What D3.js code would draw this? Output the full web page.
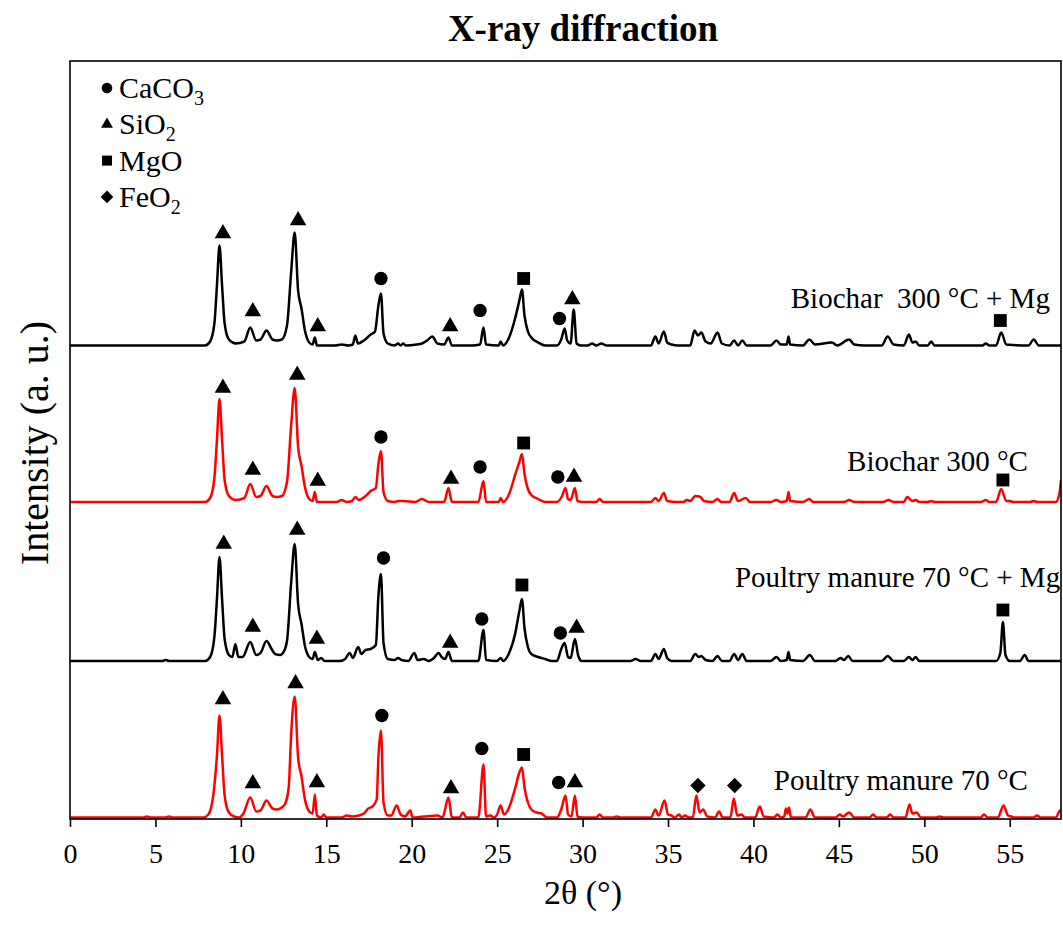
<!DOCTYPE html>
<html>
<head>
<meta charset="utf-8">
<script src="https://cdn.jsdelivr.net/npm/d3@7"></script>
<style>
  body { margin: 0; background: #fff; }
  svg { font-family: "Liberation Serif", "Times New Roman", serif; }
</style>
</head>
<body>
<svg width="1063" height="934"></svg>
<script>
// 2θ ticks
const xTicks = [0, 5, 10, 15, 20, 25, 30, 35, 40, 45, 50, 55];

// series, top to bottom
const seriesNames = ["Biochar  300 °C + Mg", "Biochar 300 °C", "Poultry manure 70 °C + Mg", "Poultry manure 70 °C"];
const seriesColors = ["#000000", "#ff0000", "#000000", "#ff0000"];
const seriesOffsets = [473.5, 317, 158, 1.5];   // vertical stacking offset (a.u.)
const labelAnchors = [[57.35, 37.5], [56.06, 31], [57.95, 74], [56.06, 27.5]]; // [2θ, a.u. above baseline]

// patterns: [2θ, intensity]
const biocharMg = [
  [0,0],[7.9,0],[8.2,4],[8.45,22],[8.6,60],[8.75,100],[8.9,60],[9.05,22],[9.3,6],[9.7,2],
  [10.2,4],[10.55,18],[10.9,5],[11.15,6],[11.5,15],[11.85,6],[12.1,5],[12.4,6],[12.7,20],[12.95,75],[13.15,113],[13.35,55],[13.55,37],[13.75,15],[14.0,3],[14.2,1],[14.33,8],[14.45,0],
  [15.5,0],[15.9,1],[16.3,0],[16.55,1],[16.7,10],[16.85,2],[17.2,5],[17.6,11],[17.85,14],[18.05,40],[18.2,52],[18.35,12],[18.6,2],[19.0,0],
  [19.2,2],[19.35,0],[19.5,2],[19.65,0],[20.3,1],[20.6,2],[20.9,5],[21.2,9],[21.5,2],[21.9,1],[22.15,8],[22.35,0],
  [23.5,0],[24.0,1],[24.2,18],[24.35,1],[25.1,0],[25.2,4],[25.35,0],[25.7,8],[26.05,27],[26.3,45],[26.45,56],[26.6,30],[26.8,14],[27.0,8],[27.4,3],[27.8,0],
  [28.5,0],[28.75,6],[28.95,17],[29.1,5],[29.3,2],[29.48,36],[29.65,2],[29.9,0],[30.3,0],[30.55,2],[30.8,0],[31.1,2],[31.4,0],
  [34.0,0],[34.26,9],[34.45,2],[34.76,14],[34.95,3],[35.2,1],[35.6,0],
  [36.3,0],[36.55,15],[36.75,10],[36.95,13],[37.2,4],[37.5,2],[37.9,13],[38.15,2],[38.6,0],[38.87,5],[39.1,0],[39.35,5],[39.6,0],
  [41.0,0],[41.35,5],[41.6,1],[41.95,1],[42.05,9],[42.15,1],[42.9,0],[43.27,6],[43.6,1],[44.6,3],[44.9,0],[45.6,6],[45.9,1],[46.5,0],
  [47.5,0],[47.86,9],[48.2,1],[48.8,0],[49.1,11],[49.3,3],[49.5,4],[49.7,0],[50.2,0],[50.4,4],[50.6,0],
  [53.4,0],[53.6,2],[53.8,0],[54.2,0],[54.5,13],[54.8,1],[56.1,0],[56.4,6],[56.7,0],[58,0]
];
const biochar = [
  [0,0],[7.9,0],[8.2,4],[8.45,24],[8.6,62],[8.75,103],[8.9,62],[9.05,22],[9.3,6],[9.7,2],
  [10.2,4],[10.55,18],[10.9,5],[11.15,6],[11.5,16],[11.85,6],[12.1,5],[12.4,6],[12.7,20],[12.95,78],[13.15,114],[13.35,55],[13.55,36],[13.75,15],[14.0,3],[14.2,1],[14.33,10],[14.45,0],
  [15.6,0],[15.9,2],[16.2,0],[16.5,1],[16.7,5],[16.9,2],[17.3,6],[17.6,11],[17.9,14],[18.05,38],[18.2,51],[18.35,10],[18.6,1],[19.0,0],
  [19.2,1],[19.5,1],[20.2,0],[20.6,3],[21.0,0],[21.9,0],[22.15,14],[22.35,0],
  [23.9,0],[24.2,21],[24.35,0],[25.1,0],[25.2,4],[25.35,0],[25.7,8],[26.05,27],[26.3,40],[26.45,48],[26.6,28],[26.8,13],[27.0,7],[27.4,3],[27.8,0],
  [28.5,0],[28.8,6],[29.0,14],[29.15,3],[29.3,2],[29.55,14],[29.7,1],[30.0,0],[30.8,0],[31.0,3],[31.2,0],
  [34.0,0],[34.26,4],[34.45,1],[34.76,9],[34.95,1],[35.5,0],[35.9,0],[36.1,2],[36.3,1],[36.6,6],[36.9,5],[37.1,1],[37.6,0],[37.9,3],[38.1,0],[38.6,0],[38.87,9],[39.1,1],[39.55,4],[39.8,0],
  [41.0,0],[41.35,2],[41.6,0],[41.95,1],[42.05,10],[42.15,1],[42.9,0],[43.27,3],[43.5,0],[45.3,0],[45.6,2],[45.9,0],[47.6,0],[47.9,2],[48.2,0],
  [48.8,0],[49.0,5],[49.3,1],[49.5,2],[49.7,0],[50.2,0],[50.4,1],[50.6,0],
  [53.3,0],[53.6,2],[53.8,0],[54.2,0],[54.5,13],[54.8,1],[55.0,1],[55.2,0],[56.2,0],[56.4,1],[56.6,0],[57.7,0],[57.9,8],[58,22]
];
const manureMg = [
  [0,0],[5.4,0],[5.6,1],[5.8,0],[7.9,0],[8.2,4],[8.45,24],[8.6,62],[8.75,104],[8.9,62],[9.05,22],[9.3,6],[9.5,4],[9.68,17],[9.85,4],
  [10.1,4],[10.55,19],[10.9,6],[11.15,8],[11.5,20],[11.8,12],[12.0,7],[12.3,6],[12.5,9],[12.7,20],[12.95,80],[13.15,117],[13.35,57],[13.55,37],[13.75,15],[14.0,4],[14.2,2],[14.33,9],[14.5,1],[14.7,3],[14.9,0],
  [15.8,0],[16.1,2],[16.37,8],[16.55,3],[16.87,14],[17.05,7],[17.3,11],[17.6,12],[17.9,16],[18.05,65],[18.2,87],[18.35,18],[18.6,2],[19.0,1],
  [19.2,3],[19.4,1],[19.8,0],[20.15,8],[20.35,1],[20.7,2],[21.0,0],[21.3,3],[21.57,8],[21.75,4],[21.95,2],[22.15,9],[22.35,0],
  [23.9,0],[24.2,31],[24.35,1],[25.0,0],[25.2,3],[25.35,0],[25.7,8],[26.05,27],[26.3,50],[26.45,62],[26.6,33],[26.8,14],[27.0,7],[27.4,4],[27.8,2],[28.2,0],
  [28.5,0],[28.75,12],[28.95,18],[29.15,4],[29.3,3],[29.55,22],[29.75,5],[29.95,0],
  [32.8,0],[33.1,2],[33.4,0],[34.0,0],[34.26,7],[34.45,2],[34.76,12],[34.95,3],[35.2,0],
  [36.3,0],[36.6,7],[36.8,4],[36.95,5],[37.2,1],[37.6,0],[37.9,5],[38.15,0],[38.6,0],[38.87,7],[39.1,1],[39.35,7],[39.6,0],
  [41.0,0],[41.35,4],[41.6,0],[41.95,1],[42.05,9],[42.15,1],[42.9,0],[43.3,6],[43.6,0],[44.8,0],[45.1,3],[45.3,1],[45.55,5],[45.8,0],[47.5,0],[47.86,5],[48.2,0],
  [48.8,0],[49.1,4],[49.3,1],[49.5,4],[49.7,0],
  [54.2,0],[54.45,8],[54.6,39],[54.75,6],[55.0,0],[55.6,0],[55.87,6],[56.1,0],[58,0]
];
const manure = [
  [0,0],[4.3,0],[4.5,1],[4.7,0],[5.6,0],[5.8,1],[6.0,0],[7.8,0],[8.1,3],[8.4,24],[8.6,62],[8.75,102],[8.9,62],[9.05,22],[9.3,5],[9.6,1],[9.9,0],
  [10.15,4],[10.55,20],[10.9,6],[11.15,7],[11.5,17],[11.85,9],[12.1,8],[12.4,10],[12.6,14],[12.8,30],[12.95,85],[13.15,121],[13.35,60],[13.55,41],[13.75,18],[14.0,6],[14.2,4],[14.33,23],[14.45,2],[14.7,0],[14.85,3],[15.0,0],
  [15.9,0],[16.2,2],[16.5,1],[16.9,2],[17.2,4],[17.46,9],[17.7,11],[17.95,18],[18.05,60],[18.2,87],[18.35,15],[18.6,2],[18.8,2],[19.12,12],[19.35,3],[19.6,1],[19.92,7],[20.05,0],
  [20.7,1],[21.5,2],[21.8,0],[22.15,20],[22.35,0],[22.8,0],[22.99,5],[23.2,0],
  [23.9,0],[24.2,53],[24.35,1],[24.6,2],[24.8,0],[25.0,3],[25.2,12],[25.4,3],[25.7,10],[26.05,29],[26.3,45],[26.45,50],[26.6,30],[26.8,15],[27.0,8],[27.3,5],[27.6,4],[27.9,0],
  [28.5,0],[28.75,8],[29.0,22],[29.15,3],[29.35,1],[29.55,22],[29.7,1],[30.0,0],[30.8,0],[31.0,3],[31.2,0],[31.8,0],[32.0,1],[32.2,0],
  [34.0,0],[34.26,8],[34.45,2],[34.8,17],[35.0,3],[35.2,2],[35.4,0],[35.64,3],[35.8,0],[36.0,2],[36.2,0],
  [36.45,0],[36.66,22],[36.85,5],[37.05,8],[37.3,1],[37.75,0],[37.99,6],[38.2,0],[38.65,0],[38.85,19],[39.05,2],[39.3,3],[39.5,0],
  [40.1,0],[40.37,11],[40.6,1],[41.2,0],[41.4,3],[41.6,0],[41.8,1],[41.9,9],[42.0,4],[42.08,10],[42.2,0],[43.05,0],[43.33,8],[43.6,0],
  [44.8,0],[45.05,3],[45.25,1],[45.6,5],[45.9,0],[46.8,0],[47.0,3],[47.2,0],[47.8,0],[48.0,3],[48.2,0],
  [48.9,0],[49.13,13],[49.3,4],[49.55,5],[49.8,0],[50.7,0],[50.9,1],[51.1,0],
  [53.3,0],[53.5,3],[53.7,0],[54.3,0],[54.64,12],[54.9,2],[55.1,1],[55.3,0],[56.4,0],[56.6,2],[56.8,0],[57.7,0],[57.95,7],[58,5]
];
const patterns = [biocharMg, biochar, manureMg, manure];

// phase markers: [2θ, phase, a.u. above baseline]
const marksBiocharMg = [[8.95,"SiO2",112],[10.7,"SiO2",34],[13.35,"SiO2",125],[14.5,"SiO2",19],[18.2,"CaCO3",67],[22.25,"SiO2",19],[24.0,"CaCO3",35],[26.55,"MgO",67],[28.65,"CaCO3",27],[29.4,"SiO2",46],[54.45,"MgO",25]];
const marksBiochar = [[8.95,"SiO2",114],[10.7,"SiO2",32],[13.3,"SiO2",127],[14.5,"SiO2",21],[18.2,"CaCO3",65],[22.3,"SiO2",23],[24.0,"CaCO3",35],[26.55,"MgO",59],[28.55,"CaCO3",25],[29.5,"SiO2",25],[54.6,"MgO",22]];
const marksManureMg = [[9.0,"SiO2",117],[10.7,"SiO2",34],[13.3,"SiO2",131],[14.45,"SiO2",22],[18.35,"CaCO3",103],[22.25,"SiO2",18],[24.1,"CaCO3",42],[26.45,"MgO",76],[28.7,"CaCO3",28],[29.65,"SiO2",33],[54.6,"MgO",51]];
const marksManure = [[8.95,"SiO2",118],[10.7,"SiO2",34],[13.2,"SiO2",134],[14.45,"SiO2",35],[18.25,"CaCO3",102],[22.3,"SiO2",29],[24.1,"CaCO3",69],[26.55,"MgO",63],[28.6,"CaCO3",35],[29.55,"SiO2",35],[36.75,"FeO2",32],[38.9,"FeO2",32]];
const marks = [marksBiocharMg, marksBiochar, marksManureMg, marksManure];

// legend
const phases = ["CaCO3", "SiO2", "MgO", "FeO2"];
const phaseText = [["CaCO", "3"], ["SiO", "2"], ["MgO", ""], ["FeO", "2"]];

const svg = d3.select("svg");
const plotLeft = 70, plotRight = 1061, plotTop = 61, plotBottom = 819;

const x = d3.scaleLinear().domain([0, 58]).range([plotLeft, plotRight]);
const y = d3.scaleLinear().domain([0, plotBottom - plotTop]).range([plotBottom, plotTop]);

const symbolType = {
  CaCO3: d3.symbolCircle, SiO2: d3.symbolTriangle, MgO: d3.symbolSquare, FeO2: d3.symbolSquare
};
const bigSize = { CaCO3: 140, SiO2: 118, MgO: 165, FeO2: 118 };
const smallSize = { CaCO3: 90, SiO2: 62, MgO: 100, FeO2: 80 };

svg.append("clipPath").attr("id", "plot-clip")
  .append("rect")
  .attr("x", plotLeft).attr("y", plotTop)
  .attr("width", plotRight - plotLeft).attr("height", plotBottom - plotTop);

// x axis
const xAxis = svg.append("g")
  .attr("transform", `translate(0,${plotBottom})`)
  .call(d3.axisBottom(x).tickValues(xTicks).tickSizeInner(8).tickSizeOuter(0).tickPadding(16));
xAxis.select(".domain").remove();
xAxis.selectAll(".tick line").attr("stroke", "#000").attr("stroke-width", 1.6);
xAxis.selectAll(".tick text")
  .attr("font-family", "Liberation Serif")
  .attr("font-size", 28)
  .attr("fill", "#000");

// patterns
const line = d3.line()
  .x(d => x(d[0]))
  .curve(d3.curveMonotoneX);

const plot = svg.append("g").attr("clip-path", "url(#plot-clip)");
patterns.forEach((p, i) => {
  plot.append("path")
    .datum(p)
    .attr("fill", "none")
    .attr("stroke", seriesColors[i])
    .attr("stroke-width", 2.5)
    .attr("stroke-linejoin", "round")
    .attr("d", line.y(d => y(d[1] + seriesOffsets[i])));
});

// phase markers
marks.forEach((m, i) => {
  svg.append("g").selectAll("path")
    .data(m)
    .join("path")
    .attr("d", d => d3.symbol().type(symbolType[d[1]]).size(bigSize[d[1]])())
    .attr("transform", d => `translate(${x(d[0])},${y(d[2] + seriesOffsets[i])})` + (d[1] === "FeO2" ? " rotate(45)" : ""))
    .attr("fill", "#000");
});

// series labels
seriesNames.forEach((name, i) => {
  svg.append("text")
    .attr("x", x(labelAnchors[i][0]))
    .attr("y", y(labelAnchors[i][1] + seriesOffsets[i]))
    .attr("text-anchor", "end")
    .attr("font-size", 29)
    .style("white-space", "pre")
    .text(name);
});

// frame
svg.append("rect")
  .attr("x", plotLeft).attr("y", plotTop)
  .attr("width", plotRight - plotLeft).attr("height", plotBottom - plotTop)
  .attr("fill", "none")
  .attr("stroke", "#000")
  .attr("stroke-width", 1.6);

// legend
const legend = svg.append("g");
phases.forEach((ph, i) => {
  const cy = 88 + i * 36.3;
  legend.append("path")
    .attr("d", d3.symbol().type(symbolType[ph]).size(smallSize[ph])())
    .attr("transform", `translate(107,${cy})` + (ph === "FeO2" ? " rotate(45)" : ""))
    .attr("fill", "#000");
  const t = legend.append("text")
    .attr("x", 119)
    .attr("y", cy + 10)
    .attr("font-size", 30);
  t.append("tspan").text(phaseText[i][0]);
  if (phaseText[i][1]) {
    t.append("tspan").attr("dy", 7).attr("font-size", 20).text(phaseText[i][1]);
  }
});

// titles
svg.append("text")
  .attr("x", 583).attr("y", 41)
  .attr("text-anchor", "middle")
  .attr("font-size", 37)
  .attr("font-weight", "bold")
  .text("X-ray diffraction");

svg.append("text")
  .attr("x", 583).attr("y", 904)
  .attr("text-anchor", "middle")
  .attr("font-size", 34)
  .text("2θ (°)");

svg.append("text")
  .attr("transform", `translate(48,443) rotate(-90)`)
  .attr("text-anchor", "middle")
  .attr("font-size", 40)
  .text("Intensity (a. u.)");
</script>
</body>
</html>
